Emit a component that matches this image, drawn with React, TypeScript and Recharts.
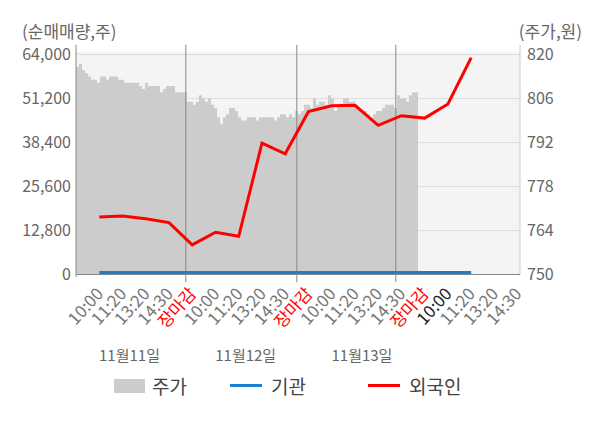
import React from "react";
import {
  ComposedChart,
  Area,
  Line,
  XAxis,
  YAxis,
  CartesianGrid,
  ReferenceLine,
} from "recharts";

// x-axis labels (one per flow point slot)
const timeLabels = [
  "10:00", "11:20", "13:20", "14:30", "장마감",
  "10:00", "11:20", "13:20", "14:30", "장마감",
  "10:00", "11:20", "13:20", "14:30", "장마감",
  "10:00", "11:20", "13:20", "14:30",
];
const currentLabel = 15;
const dateLabels = ["11월11일", "11월12일", "11월13일"];
const dateUnder = [1, 6, 11];

// net buying (shares)
const foreign = [
  16700, 17000, 16200, 15100, 8600, 12300, 11100, 38200, 35100,
  47400, 49100, 49200, 43400, 46200, 45500, 49600, 63100,
];
const institution = [
  600, 600, 600, 600, 600, 600, 600, 600, 600,
  600, 600, 600, 600, 600, 600, 600, 600,
];

// intraday price (won), per day
const day1Price = [
  816, 817, 815, 814, 813, 812, 812, 811, 813, 813, 812, 813, 813, 813, 812,
  812, 811, 811, 811, 811, 811, 810, 809, 811, 810, 810, 810, 810, 808, 809,
  810, 810, 810, 808, 808, 808, 808,
];
const day2Price = [
  805, 805, 804, 805, 807, 806, 805, 806, 804, 803, 800, 798, 800, 801, 803,
  803, 802, 800, 799, 799, 800, 800, 800, 799, 800, 800, 800, 800, 800, 799,
  800, 801, 801, 800, 801, 800, 802,
];
const day3Price = [
  801, 802, 804, 804, 803, 806, 804, 805, 805, 804, 807, 806, 802, 804, 804,
  806, 806, 805, 805, 804, 803, 802, 802, 801, 800, 801, 802, 802, 803, 804,
  804, 804, 803,
];
const day4Price = [807, 806, 806, 805, 807, 808, 808, 810];

const leftTicks = [0, 12800, 25600, 38400, 51200, 64000];
const rightTicks = [750, 764, 778, 792, 806, 820];

const days = [day1Price, day2Price, day3Price, day4Price];
const priceData = days.flat().map((price, s) => ({ s, price }));
const dayStarts: number[] = [];
days.reduce((acc, d, k) => {
  if (k > 0) dayStarts.push(acc);
  return acc + d.length;
}, 0);

const flowData = foreign.map((v, i) => ({ i, foreign: v, inst: institution[i] }));

const FONT = "'Noto Sans CJK KR', 'Noto Sans', sans-serif";

const TimeTick = (props: any) => {
  const { x, y, payload } = props;
  const i = payload.value;
  const label = timeLabels[i];
  const color = label === "장마감" ? "#ff0000" : i === currentLabel ? "#222" : "#777";
  const d = dateUnder.indexOf(i);
  return (
    <g>
      <g transform={`translate(${x + 5},${y + 20})`}>
        <text textAnchor="end" transform="rotate(-48)" fontSize={17} fill={color} fontFamily={FONT}>
          {label}
        </text>
      </g>
      {d >= 0 && (
        <text x={x + 7} y={y + 86} textAnchor="middle" fontSize={15} fill="#666" fontFamily={FONT}>
          {dateLabels[d]}
        </text>
      )}
    </g>
  );
};

const legendText: React.CSSProperties = {
  position: "absolute",
  top: 374,
  fontSize: 19,
  color: "#444",
  fontFamily: FONT,
  lineHeight: "24px",
};

const titleText: React.CSSProperties = {
  position: "absolute",
  top: 22,
  fontSize: 17,
  color: "#666",
  lineHeight: "17px",
};

export default function App() {
  return (
    <div style={{ position: "relative", width: 600, height: 428, fontFamily: FONT }}>
      <style>{`body{margin:0}`}</style>
      <div style={{ position: "absolute", left: 76, top: 52, width: 444, height: 223, background: "#f4f4f4" }} />
      <div style={{ ...titleText, left: 22 }}>(순매매량,주)</div>
      <div style={{ ...titleText, right: 18 }}>(주가,원)</div>
      <div style={{ position: "absolute", left: 0, top: 0 }}>
        <ComposedChart width={600} height={428} margin={{ top: 54.5, right: 0, bottom: 0, left: 0 }}>
          <XAxis xAxisId="p" dataKey="s" type="number" domain={[0, 148]} hide />
          <XAxis
            xAxisId="f"
            dataKey="i"
            type="number"
            domain={[-1, 18.1]}
            ticks={timeLabels.map((_, i) => i)}
            interval={0}
            height={153.5}
            tickLine={false}
            tickSize={0}
            tickMargin={0}
            axisLine={{ stroke: "#888" }}
            tick={<TimeTick />}
          />
          <YAxis
            yAxisId="left"
            domain={[0, 64000]}
            ticks={leftTicks}
            width={76}
            axisLine={false}
            tickLine={false}
            tickSize={3}
            tickMargin={2}
            tick={{ fontSize: 16, fill: "#666", fontFamily: FONT }}
            tickFormatter={(v: number) => v.toLocaleString("en-US")}
          />
          <YAxis
            yAxisId="right"
            orientation="right"
            domain={[750, 820]}
            ticks={rightTicks}
            width={80}
            axisLine={false}
            tickLine={false}
            tickSize={5}
            tickMargin={2}
            tick={{ fontSize: 16, fill: "#666", fontFamily: FONT }}
          />
          <CartesianGrid
            xAxisId="f"
            yAxisId="left"
            vertical={false}
            stroke="#dddddd"
          />
          <Area
            data={priceData}
            xAxisId="p"
            yAxisId="right"
            dataKey="price"
            type="stepAfter"
            stroke="none"
            fill="#cccccc"
            fillOpacity={1}
            isAnimationActive={false}
          />
          <ReferenceLine
            xAxisId="p"
            yAxisId="left"
            ifOverflow="visible"
            segment={[{ x: 0, y: 66800 }, { x: 0, y: -700 }]}
            stroke="#888"
          />
          <ReferenceLine
            xAxisId="p"
            yAxisId="left"
            ifOverflow="visible"
            segment={[{ x: 148, y: 66800 }, { x: 148, y: 0 }]}
            stroke="#cccccc"
          />
          {dayStarts.map((s) => (
            <ReferenceLine
              key={s}
              xAxisId="p"
              yAxisId="left"
              ifOverflow="visible"
              segment={[{ x: s - 0.4, y: 66800 }, { x: s - 0.4, y: -2200 }]}
              stroke="#888"
            />
          ))}
          <Line
            data={flowData}
            xAxisId="f"
            yAxisId="left"
            dataKey="inst"
            stroke="#1a7fcf"
            strokeWidth={3}
            dot={false}
            isAnimationActive={false}
          />
          <Line
            data={flowData}
            xAxisId="f"
            yAxisId="left"
            dataKey="foreign"
            stroke="#ff0000"
            strokeWidth={3}
            dot={false}
            isAnimationActive={false}
          />
        </ComposedChart>
      </div>
      <div style={{ position: "absolute", left: 114, top: 379, width: 31, height: 14, background: "#cccccc" }} />
      <div style={{ ...legendText, left: 152 }}>주가</div>
      <div style={{ position: "absolute", left: 230, top: 384, width: 32, height: 3, background: "#1a7fcf" }} />
      <div style={{ ...legendText, left: 271 }}>기관</div>
      <div style={{ position: "absolute", left: 368, top: 384, width: 32, height: 3, background: "#ff0000" }} />
      <div style={{ ...legendText, left: 409 }}>외국인</div>
    </div>
  );
}
